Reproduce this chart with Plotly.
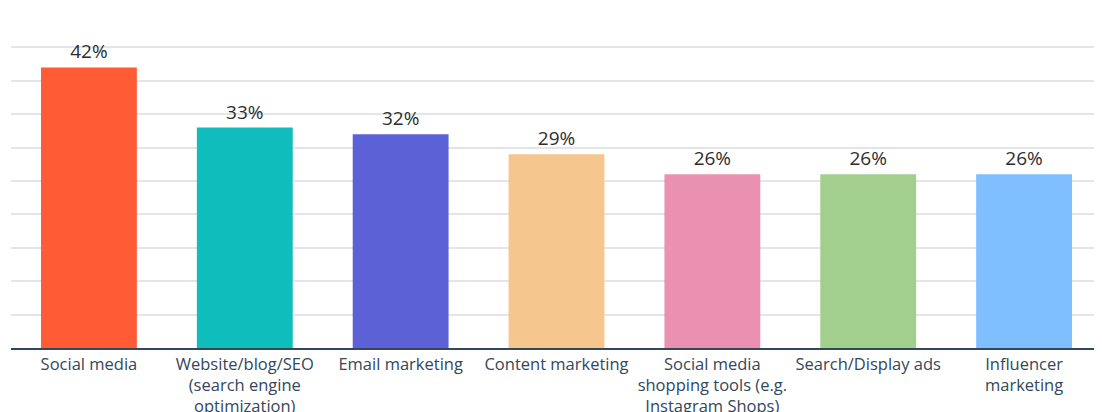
import plotly.graph_objects as go

categories = [
    "Social media",
    "Website/blog/SEO<br>(search engine<br>optimization)",
    "Email marketing",
    "Content marketing",
    "Social media<br>shopping tools (e.g.<br>Instagram Shops)",
    "Search/Display ads",
    "Influencer<br>marketing",
]
values = [42, 33, 32, 29, 26, 26, 26]
labels = ["42%", "33%", "32%", "29%", "26%", "26%", "26%"]
colors = ["#FF5C35", "#0FBDBD", "#5C62D6", "#F5C78E", "#EA90B1", "#A2CF8E", "#7FBFFF"]

fig = go.Figure(go.Bar(
    x=categories,
    y=values,
    text=labels,
    textposition="outside",
    textfont=dict(size=19, color="#2d2d2d", family="Open Sans"),
    marker=dict(color=colors, line=dict(width=0)),
    cliponaxis=False,
))

fig.update_layout(
    width=1094,
    height=404,
    margin=dict(l=3, r=0, t=6, b=64),
    paper_bgcolor="white",
    plot_bgcolor="white",
    bargap=0.385,
    showlegend=False,
    font=dict(family="Open Sans", color="#33475b"),
    xaxis=dict(
        tickfont=dict(size=16.5, color="#33475b"),
        showline=True,
        linecolor="#33475b",
        linewidth=1.5,
        ticks="",
        showgrid=False,
        automargin=False,
    ),
    yaxis=dict(
        range=[0, 50],
        dtick=5,
        showticklabels=False,
        showgrid=True,
        gridcolor="#e3e5ea",
        gridwidth=1.5,
        zeroline=False,
    ),
)

fig.write_html("out.html")
